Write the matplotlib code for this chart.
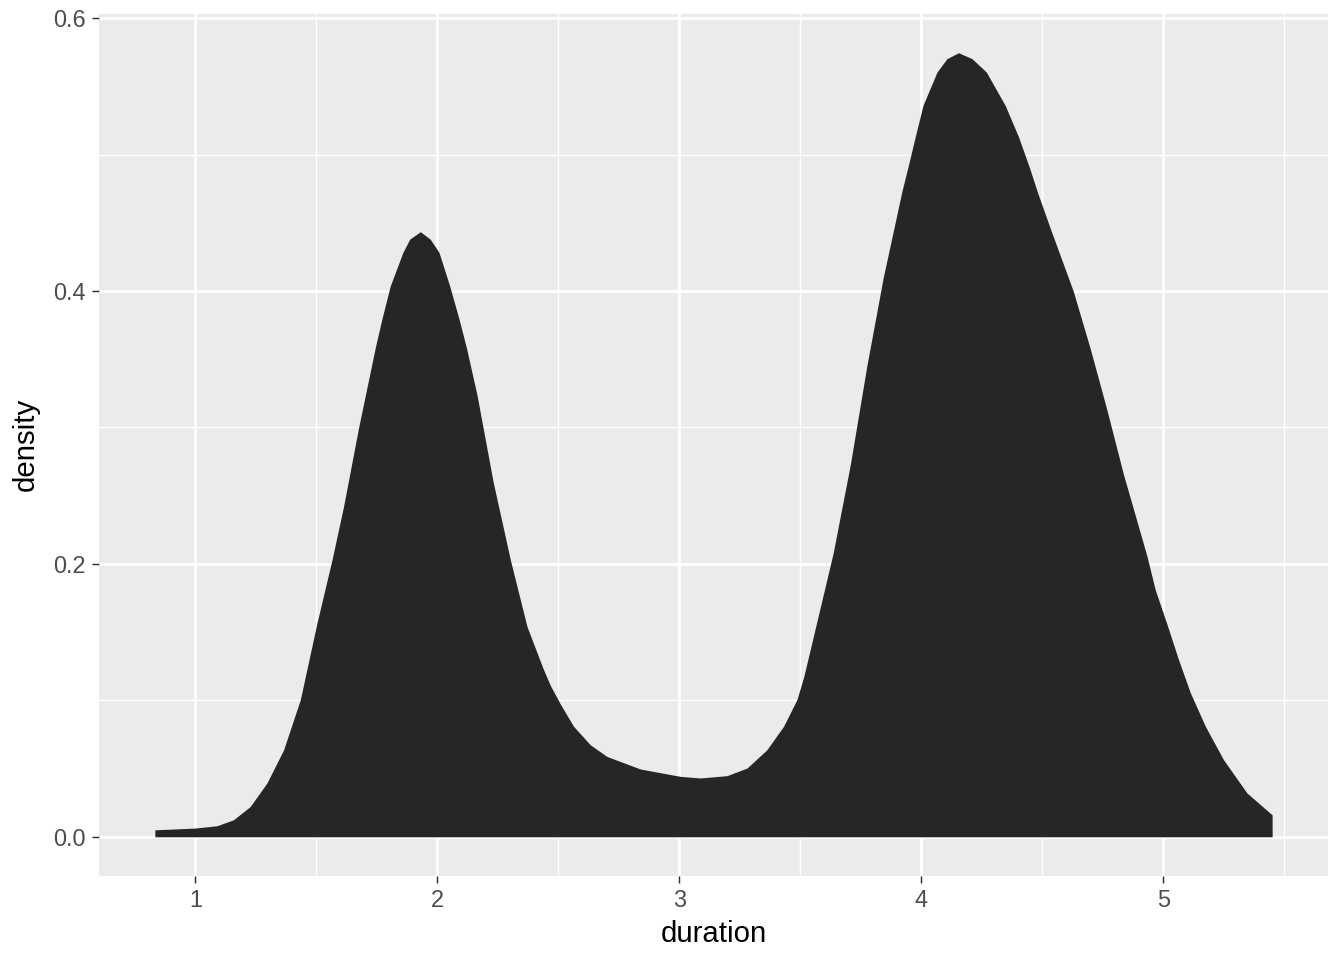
import numpy as np
import matplotlib
matplotlib.use("Agg")
import matplotlib.pyplot as plt
from matplotlib.ticker import MultipleLocator

# density curve of eruption duration
duration = [0.833, 1.000, 1.090, 1.158, 1.227, 1.296, 1.365, 1.434, 1.503, 1.565,
            1.613, 1.675, 1.744, 1.771, 1.806, 1.858, 1.886, 1.930, 1.971, 2.007,
            2.051, 2.090, 2.120, 2.164, 2.231, 2.302, 2.371, 2.438, 2.467, 2.508,
            2.563, 2.632, 2.701, 2.839, 3.004, 3.087, 3.197, 3.280, 3.362, 3.431,
            3.486, 3.514, 3.636, 3.707, 3.776, 3.843, 3.920, 3.948, 3.975, 4.007,
            4.065, 4.106, 4.154, 4.210, 4.269, 4.347, 4.402, 4.448, 4.481, 4.533,
            4.628, 4.698, 4.767, 4.835, 4.933, 4.967, 5.015, 5.063, 5.112, 5.174,
            5.249, 5.346, 5.450]
density = [0.0051, 0.0064, 0.0081, 0.0125, 0.0222, 0.0394, 0.0638, 0.1005, 0.1568, 0.2030,
           0.2424, 0.300, 0.3587, 0.3794, 0.4039, 0.4284, 0.438, 0.4435, 0.438, 0.4284,
           0.4039, 0.3794, 0.3587, 0.324, 0.260, 0.203, 0.154, 0.123, 0.1110, 0.0975,
           0.081, 0.0675, 0.0589, 0.0497, 0.0443, 0.0431, 0.0448, 0.0504, 0.0638, 0.081,
           0.1005, 0.117, 0.208, 0.273, 0.346, 0.410, 0.4730, 0.4930, 0.5130, 0.536,
           0.5605, 0.5703, 0.5747, 0.5703, 0.5605, 0.536, 0.5130, 0.490, 0.472, 0.446,
           0.400, 0.358, 0.313, 0.266, 0.2055, 0.1810, 0.1560, 0.1299, 0.1055, 0.081,
           0.0565, 0.0321, 0.0161]

x_ticks = [1, 2, 3, 4, 5]
y_ticks = [0.0, 0.2, 0.4, 0.6]
y_labels = ["0.0", "0.2", "0.4", "0.6"]

plt.rcParams["font.family"] = ["Liberation Sans", "DejaVu Sans"]

fig = plt.figure(figsize=(7, 5), dpi=192)
ax = fig.add_axes([99 / 1344, 1 - 876 / 960, (1328 - 99) / 1344, (876 - 13.5) / 960])

ax.set_facecolor("#EBEBEB")
ax.fill_between(duration, density, 0, color="#262626", linewidth=0, zorder=3)

# ggplot-like limits with 5% expansion
xmin, xmax = min(duration), max(duration)
ymax = max(density)
xpad = (xmax - xmin) * 0.05
ax.set_xlim(xmin - xpad, xmax + xpad)
ax.set_ylim(-ymax * 0.05, ymax * 1.05)

ax.set_xticks(x_ticks)
ax.set_xticklabels([str(t) for t in x_ticks])
ax.set_yticks(y_ticks)
ax.set_yticklabels(y_labels)
ax.xaxis.set_minor_locator(MultipleLocator(0.5))
ax.yaxis.set_minor_locator(MultipleLocator(0.1))

ax.grid(which="major", color="white", linewidth=1.1, zorder=1)
ax.grid(which="minor", color="white", linewidth=0.55, zorder=1)
ax.set_axisbelow(True)

for s in ax.spines.values():
    s.set_visible(False)

ax.tick_params(which="major", length=2.75, width=0.55, color="#333333",
               labelsize=8.8, labelcolor="#4D4D4D", pad=2.2)
ax.tick_params(which="minor", length=0)

ax.set_xlabel("duration", fontsize=11, color="black", labelpad=3)
ax.set_ylabel("density", fontsize=11, color="black", labelpad=5)

fig.savefig("out.png", dpi=192, facecolor="white")
